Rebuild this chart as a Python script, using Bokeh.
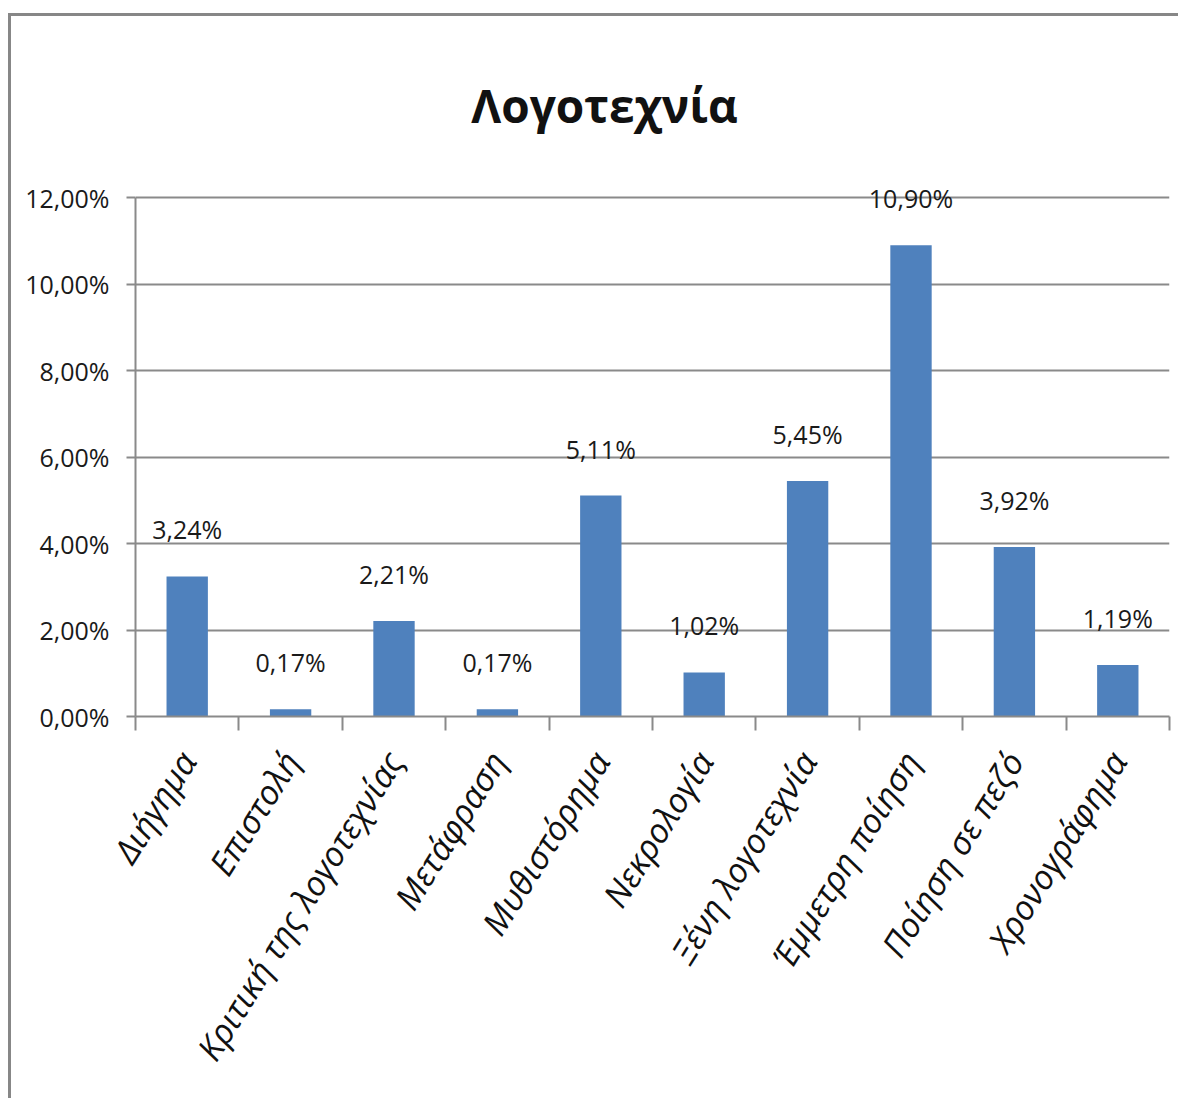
import math
from bokeh.plotting import figure
from bokeh.models import (ColumnDataSource, Range1d, FixedTicker, CustomJSTickFormatter,
                          LabelSet, Label)
from bokeh.core.properties import value
from bokeh.embed import file_html
from bokeh.resources import INLINE

categories = ["Διήγημα", "Επιστολή", "Κριτική της λογοτεχνίας", "Μετάφραση",
              "Μυθιστόρημα", "Νεκρολογία", "Ξένη λογοτεχνία", "Έμμετρη ποίηση",
              "Ποίηση σε πεζό", "Χρονογράφημα"]
values = [3.24, 0.17, 2.21, 0.17, 5.11, 1.02, 5.45, 10.90, 3.92, 1.19]
y_ticks = [0, 2, 4, 6, 8, 10, 12]
title_text = "Λογοτεχνία"

FONT = "Open Sans"
BAR = "#4F81BD"
GRID = "#8a8a8a"

xs = [i + 0.5 for i in range(len(categories))]
labels = [("%.2f" % v).replace(".", ",") + "%" for v in values]
src = ColumnDataSource(dict(x=xs, top=values, label=labels, cat=categories))

p = figure(width=1170, height=1085, output_backend="svg", toolbar_location=None,
           x_range=Range1d(0, len(categories)), y_range=Range1d(0, 15.5),
           min_border_left=124, min_border_right=12, min_border_top=30,
           min_border_bottom=385)
p.margin = (13, 0, 0, 8)
p.styles = {"border-top": "3px solid #878787", "border-left": "3px solid #878787"}

title = Label(x=469, y=612, x_units="screen", y_units="screen", text=title_text,
              text_font=FONT, text_font_size="46px", text_font_style="bold",
              text_color="#111111", text_align="center", text_baseline="alphabetic")
p.add_layout(title)

p.vbar(x="x", top="top", width=0.4, bottom=0, source=src, fill_color=BAR, line_color=None)

ls = LabelSet(x="x", y="top", text="label", source=src, text_align="center",
              text_baseline="middle", y_offset=47, text_font=value(FONT),
              text_font_size=value("25px"), text_color=value("#1a1a1a"))
p.add_layout(ls)

p.outline_line_color = None
p.background_fill_color = "white"
p.border_fill_color = "white"

p.xgrid.visible = False
p.ygrid.ticker = FixedTicker(ticks=y_ticks)
p.ygrid.grid_line_color = GRID
p.ygrid.grid_line_width = 2

yax = p.yaxis[0]
yax.bounds = (0, 12)
yax.ticker = FixedTicker(ticks=y_ticks)
yax.formatter = CustomJSTickFormatter(code="return tick.toFixed(2).replace('.', ',') + '%';")
yax.major_label_text_font = FONT
yax.major_label_text_font_size = "25px"
yax.major_label_text_color = "#1a1a1a"
yax.axis_line_color = GRID
yax.axis_line_width = 2
yax.major_tick_line_color = GRID
yax.major_tick_line_width = 2
yax.major_tick_out = 9
yax.major_tick_in = 0
yax.minor_tick_line_color = None
yax.major_label_standoff = 17

xax = p.xaxis[0]
xax.ticker = FixedTicker(ticks=xs, minor_ticks=list(range(len(categories) + 1)))
xax.major_label_overrides = {x: c for x, c in zip(xs, categories)}
xax.major_label_orientation = math.radians(58)
xax.major_label_text_font = FONT
xax.major_label_text_font_style = "italic"
xax.major_label_text_font_size = "34px"
xax.major_label_text_color = "#111111"
xax.axis_line_color = GRID
xax.axis_line_width = 2
xax.major_tick_line_color = None
xax.major_tick_out = 14
xax.major_tick_in = 0
xax.minor_tick_line_color = GRID
xax.minor_tick_line_width = 2
xax.minor_tick_out = 14
xax.minor_tick_in = 0
xax.major_label_standoff = 24

open("out.html", "w").write(file_html(p, INLINE))
